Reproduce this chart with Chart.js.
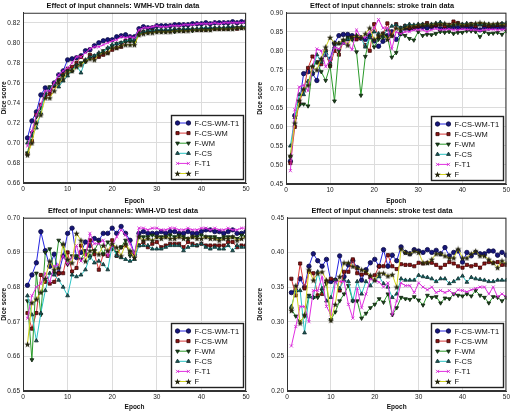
<!DOCTYPE html>
<html lang="en">
<head>
<meta charset="UTF-8">
<title>Effect of input channels</title>
<style>
  body { margin: 0; background: #fff; }
  .panel { position: absolute; }
</style>
</head>
<body>
<div class="panel" style="left:0;top:0"><canvas id="c1" width="256" height="205"></canvas></div>
<div class="panel" style="left:256px;top:0"><canvas id="c2" width="256" height="205"></canvas></div>
<div class="panel" style="left:0;top:205px"><canvas id="c3" width="256" height="206"></canvas></div>
<div class="panel" style="left:256px;top:205px"><canvas id="c4" width="256" height="206"></canvas></div>

<script src="https://cdn.jsdelivr.net/npm/chart.js"></script>
<script>
const epochs = [1,2,3,4,5,6,7,8,9,10,11,12,13,14,15,16,17,18,19,20,21,22,23,24,25,
  26,27,28,29,30,31,32,33,34,35,36,37,38,39,40,41,42,43,44,45,46,47,48,49,50];
const seriesNames = ['F-CS-WM-T1', 'F-CS-WM', 'F-WM', 'F-CS', 'F-T1', 'F'];

// WMH-VD train
const wmhTrainFCSWMT1 = [0.705,0.722,0.731,0.748,0.755,0.753,0.760,0.768,0.772,0.783,
  0.784,0.785,0.787,0.792,0.793,0.797,0.800,0.802,0.803,0.803,
  0.806,0.807,0.808,0.806,0.806,0.814,0.816,0.815,0.815,0.817,
  0.817,0.817,0.817,0.818,0.818,0.818,0.818,0.819,0.819,0.819,
  0.820,0.819,0.820,0.820,0.820,0.820,0.821,0.820,0.821,0.821];
const wmhTrainFCSWM = [0.689,0.702,0.728,0.738,0.746,0.749,0.757,0.763,0.768,0.774,
  0.776,0.780,0.786,0.782,0.788,0.785,0.786,0.788,0.790,0.793,
  0.795,0.796,0.802,0.802,0.802,0.810,0.811,0.811,0.812,0.812,
  0.812,0.812,0.812,0.812,0.813,0.812,0.813,0.813,0.813,0.813,
  0.813,0.814,0.814,0.814,0.814,0.814,0.815,0.814,0.815,0.815];
const wmhTrainFWM = [0.690,0.710,0.726,0.735,0.748,0.756,0.758,0.762,0.767,0.772,
  0.772,0.777,0.780,0.781,0.785,0.787,0.789,0.792,0.794,0.797,
  0.799,0.800,0.801,0.802,0.800,0.808,0.810,0.810,0.811,0.811,
  0.811,0.811,0.812,0.811,0.812,0.812,0.813,0.812,0.813,0.813,
  0.813,0.813,0.814,0.814,0.814,0.814,0.814,0.815,0.815,0.815];
const wmhTrainFCS = [0.700,0.707,0.715,0.730,0.750,0.755,0.758,0.756,0.762,0.767,
  0.772,0.778,0.770,0.783,0.786,0.787,0.790,0.791,0.795,0.798,
  0.799,0.800,0.802,0.803,0.803,0.809,0.811,0.812,0.812,0.813,
  0.813,0.813,0.813,0.814,0.813,0.814,0.814,0.814,0.814,0.815,
  0.815,0.815,0.815,0.815,0.815,0.816,0.816,0.815,0.816,0.816];
const wmhTrainFT1 = [0.697,0.712,0.728,0.738,0.752,0.752,0.760,0.768,0.772,0.775,
  0.780,0.786,0.786,0.790,0.794,0.796,0.796,0.798,0.800,0.802,
  0.803,0.806,0.805,0.806,0.805,0.813,0.815,0.815,0.816,0.817,
  0.816,0.816,0.817,0.817,0.817,0.818,0.818,0.818,0.819,0.819,
  0.819,0.819,0.820,0.819,0.820,0.820,0.820,0.820,0.820,0.821];
const wmhTrainF = [0.688,0.700,0.720,0.728,0.745,0.745,0.752,0.760,0.764,0.770,
  0.772,0.776,0.778,0.782,0.784,0.783,0.788,0.790,0.790,0.795,
  0.795,0.797,0.798,0.798,0.798,0.808,0.809,0.810,0.810,0.811,
  0.811,0.811,0.811,0.812,0.812,0.812,0.812,0.813,0.813,0.813,
  0.813,0.813,0.814,0.814,0.814,0.814,0.814,0.815,0.815,0.815];

// stroke train
const strokeTrainFCSWMT1 = [0.51,0.63,0.66,0.74,0.745,0.74,0.722,0.775,0.79,0.778,
  0.82,0.84,0.843,0.843,0.84,0.835,0.833,0.83,0.84,0.826,
  0.812,0.825,0.84,0.85,0.83,0.845,0.86,0.858,0.86,0.862,
  0.862,0.860,0.862,0.865,0.858,0.860,0.862,0.862,0.860,0.862,
  0.862,0.860,0.860,0.855,0.862,0.860,0.862,0.862,0.860,0.862];
const strokeTrainFCSWM = [0.505,0.60,0.665,0.695,0.755,0.785,0.77,0.765,0.80,0.76,
  0.80,0.79,0.825,0.83,0.835,0.83,0.835,0.815,0.80,0.87,
  0.835,0.845,0.872,0.84,0.87,0.86,0.865,0.86,0.862,0.865,
  0.868,0.873,0.866,0.868,0.870,0.865,0.868,0.877,0.873,0.868,
  0.868,0.870,0.866,0.870,0.868,0.866,0.867,0.868,0.870,0.868];
const strokeTrainFWM = [0.52,0.625,0.657,0.660,0.655,0.757,0.770,0.745,0.722,0.760,
  0.668,0.800,0.825,0.835,0.830,0.797,0.683,0.785,0.838,0.810,
  0.830,0.835,0.838,0.783,0.795,0.845,0.840,0.832,0.828,0.850,
  0.840,0.843,0.842,0.845,0.850,0.848,0.850,0.845,0.848,0.848,
  0.852,0.852,0.850,0.837,0.850,0.845,0.846,0.848,0.843,0.852];
const strokeTrainFCS = [0.55,0.625,0.685,0.685,0.72,0.745,0.79,0.77,0.80,0.77,
  0.81,0.82,0.82,0.83,0.83,0.84,0.835,0.81,0.835,0.85,
  0.845,0.84,0.855,0.865,0.868,0.86,0.866,0.87,0.868,0.87,
  0.870,0.868,0.870,0.872,0.875,0.870,0.866,0.868,0.870,0.870,
  0.872,0.870,0.870,0.868,0.870,0.870,0.868,0.870,0.872,0.873];
const strokeTrainFT1 = [0.485,0.645,0.705,0.71,0.695,0.755,0.805,0.80,0.758,0.775,
  0.81,0.805,0.82,0.82,0.803,0.855,0.835,0.835,0.85,0.86,
  0.882,0.86,0.86,0.805,0.85,0.845,0.85,0.85,0.855,0.855,
  0.855,0.850,0.855,0.858,0.855,0.856,0.857,0.855,0.855,0.857,
  0.856,0.855,0.855,0.853,0.855,0.856,0.856,0.855,0.856,0.857];
const strokeTrainF = [0.525,0.61,0.67,0.70,0.71,0.76,0.75,0.78,0.81,0.835,
  0.82,0.82,0.83,0.815,0.835,0.84,0.835,0.845,0.86,0.83,
  0.84,0.845,0.83,0.84,0.86,0.855,0.86,0.865,0.865,0.868,
  0.868,0.870,0.868,0.872,0.870,0.872,0.868,0.870,0.872,0.868,
  0.870,0.870,0.872,0.874,0.872,0.870,0.870,0.872,0.868,0.872];

// WMH-VD test
const wmhTestFCSWMT1 = [0.6805,0.6835,0.687,0.696,0.6905,0.686,0.6895,0.684,0.689,0.6955,
  0.697,0.6885,0.690,0.693,0.692,0.694,0.6935,0.6955,0.6955,0.697,
  0.6955,0.6975,0.6955,0.6935,0.6895,0.6955,0.696,0.6955,0.6955,0.6955,
  0.696,0.6955,0.696,0.696,0.6955,0.6955,0.696,0.6955,0.6955,0.696,
  0.6965,0.6965,0.696,0.696,0.6955,0.696,0.6965,0.6955,0.6955,0.696];
const wmhTestFCSWM = [0.6725,0.668,0.6725,0.6835,0.6815,0.681,0.6815,0.684,0.684,0.690,
  0.6845,0.6855,0.692,0.6895,0.6935,0.6895,0.685,0.6895,0.689,0.6935,
  0.689,0.6915,0.692,0.690,0.689,0.692,0.693,0.6915,0.6925,0.693,
  0.6915,0.692,0.6925,0.6925,0.6925,0.6915,0.693,0.6925,0.692,0.6925,
  0.692,0.692,0.692,0.692,0.692,0.693,0.693,0.6915,0.692,0.692];
const wmhTestFWM = [0.676,0.659,0.684,0.672,0.690,0.691,0.684,0.6935,0.692,0.6865,
  0.689,0.689,0.688,0.6905,0.6885,0.6905,0.693,0.6895,0.693,0.691,
  0.690,0.6915,0.6935,0.689,0.690,0.6945,0.6945,0.6945,0.695,0.6945,
  0.6945,0.6945,0.695,0.6945,0.695,0.6945,0.694,0.6945,0.6945,0.695,
  0.6945,0.6945,0.6945,0.694,0.6945,0.6945,0.6945,0.694,0.695,0.6945];
const wmhTestFCS = [0.6775,0.672,0.6645,0.6725,0.679,0.684,0.6835,0.682,0.680,0.6775,
  0.6835,0.683,0.6835,0.685,0.689,0.687,0.6875,0.6865,0.685,0.692,
  0.689,0.6885,0.688,0.6875,0.688,0.692,0.692,0.692,0.691,0.691,
  0.691,0.6915,0.692,0.692,0.692,0.6905,0.6915,0.692,0.692,0.6925,
  0.6915,0.691,0.6915,0.691,0.691,0.692,0.6905,0.692,0.6915,0.6915];
const wmhTestFT1 = [0.671,0.6775,0.680,0.681,0.684,0.6815,0.686,0.6865,0.689,0.6865,
  0.6885,0.692,0.6875,0.689,0.6955,0.6925,0.6925,0.6935,0.689,0.692,
  0.6945,0.6965,0.695,0.6925,0.6895,0.697,0.697,0.6965,0.697,0.697,
  0.6965,0.6965,0.697,0.697,0.6965,0.6965,0.697,0.6965,0.6965,0.697,
  0.697,0.6965,0.697,0.6965,0.6965,0.697,0.6965,0.6965,0.697,0.697];
const wmhTestF = [0.6635,0.6755,0.6765,0.6785,0.6825,0.6875,0.685,0.6855,0.6925,0.688,
  0.687,0.6955,0.6935,0.6875,0.6905,0.6905,0.6895,0.692,0.6905,0.6925,
  0.6915,0.689,0.6925,0.6905,0.6885,0.6945,0.6935,0.694,0.6935,0.6945,
  0.694,0.6945,0.694,0.694,0.6945,0.694,0.694,0.6945,0.694,0.694,
  0.6945,0.694,0.694,0.6935,0.694,0.694,0.6945,0.6935,0.694,0.6945];

// stroke test
const strokeTestFCSWMT1 = [0.342,0.345,0.362,0.350,0.380,0.398,0.388,0.380,0.390,0.358,
  0.360,0.395,0.365,0.382,0.388,0.378,0.360,0.375,0.385,0.390,
  0.380,0.404,0.380,0.396,0.388,0.408,0.400,0.398,0.404,0.402,
  0.400,0.404,0.400,0.403,0.398,0.407,0.395,0.400,0.402,0.386,
  0.400,0.395,0.400,0.398,0.398,0.402,0.402,0.396,0.400,0.396];
const strokeTestFCSWM = [0.362,0.338,0.384,0.348,0.372,0.370,0.338,0.340,0.358,0.362,
  0.360,0.345,0.372,0.372,0.390,0.370,0.368,0.370,0.364,0.367,
  0.380,0.380,0.396,0.380,0.376,0.383,0.382,0.382,0.380,0.385,
  0.384,0.385,0.385,0.382,0.378,0.382,0.386,0.384,0.380,0.378,
  0.382,0.380,0.382,0.378,0.384,0.386,0.385,0.386,0.382,0.382];
const strokeTestFWM = [0.318,0.308,0.300,0.308,0.338,0.335,0.335,0.345,0.355,0.303,
  0.314,0.330,0.340,0.352,0.330,0.330,0.305,0.312,0.320,0.325,
  0.333,0.328,0.340,0.310,0.320,0.335,0.333,0.332,0.336,0.331,
  0.324,0.338,0.335,0.336,0.327,0.334,0.333,0.340,0.338,0.337,
  0.340,0.337,0.345,0.338,0.335,0.327,0.336,0.335,0.330,0.335];
const strokeTestFCS = [0.322,0.345,0.345,0.284,0.336,0.335,0.372,0.348,0.330,0.335,
  0.360,0.348,0.360,0.358,0.330,0.358,0.340,0.358,0.352,0.360,
  0.365,0.355,0.350,0.335,0.340,0.362,0.360,0.360,0.360,0.367,
  0.365,0.364,0.362,0.358,0.362,0.362,0.355,0.358,0.362,0.366,
  0.357,0.364,0.362,0.361,0.360,0.358,0.358,0.360,0.360,0.360];
const strokeTestFT1 = [0.265,0.293,0.322,0.322,0.300,0.345,0.345,0.365,0.322,0.310,
  0.357,0.358,0.358,0.325,0.305,0.348,0.320,0.340,0.362,0.360,
  0.357,0.350,0.356,0.310,0.330,0.356,0.352,0.352,0.342,0.356,
  0.350,0.346,0.350,0.342,0.345,0.342,0.345,0.340,0.346,0.345,
  0.343,0.346,0.348,0.350,0.350,0.340,0.350,0.336,0.340,0.336];
const strokeTestF = [0.316,0.352,0.298,0.310,0.375,0.360,0.370,0.372,0.360,0.302,
  0.325,0.365,0.385,0.385,0.380,0.378,0.375,0.373,0.367,0.360,
  0.370,0.370,0.366,0.368,0.350,0.405,0.400,0.398,0.402,0.400,
  0.385,0.385,0.390,0.398,0.398,0.395,0.392,0.392,0.405,0.392,
  0.392,0.398,0.402,0.395,0.395,0.390,0.385,0.378,0.388,0.384];

// filled star marker for "F"
const starImg = document.createElement('canvas');
starImg.width = 7; starImg.height = 7;
(function () {
  const c = starImg.getContext('2d');
  c.beginPath();
  for (let k = 0; k < 10; k++) {
    const r = k % 2 === 0 ? 3.3 : 1.4;
    const a = -Math.PI / 2 + k * Math.PI / 5;
    const px = 3.5 + r * Math.cos(a), py = 3.8 + r * Math.sin(a);
    if (k === 0) c.moveTo(px, py); else c.lineTo(px, py);
  }
  c.closePath();
  c.fillStyle = '#25250f';
  c.fill();
})();

const styles = [
  { line: '#2424e0', fill: '#16167a', edge: '#0a0a40', point: 'circle', rot: 0 },
  { line: '#d83a3a', fill: '#8a1414', edge: '#3a0505', point: 'rect', rot: 0 },
  { line: '#2a9a2a', fill: '#1d471d', edge: '#0c200c', point: 'triangle', rot: 180 },
  { line: '#2ac4c4', fill: '#1d5a5a', edge: '#0c2a2a', point: 'triangle', rot: 0 },
  { line: '#e02ee0', fill: '#e02ee0', edge: '#d020d0', point: 'crossRot', rot: 0 },
  { line: '#d2d21e', fill: '#25250f', edge: '#25250f', point: starImg, rot: 0 }
];

const frameAndLegend = {
  id: 'frameAndLegend',
  afterDatasetsDraw(chart) {
    const { ctx, chartArea } = chart;
    ctx.save();
    ctx.strokeStyle = '#333';
    ctx.lineWidth = 1;
    ctx.strokeRect(chartArea.left + 0.5, chartArea.top + 0.5,
      chartArea.right - chartArea.left - 1, chartArea.bottom - chartArea.top - 1);

    const boxW = 72, boxH = 64, rowH = 10.1;
    const x0 = Math.round(chartArea.right - boxW - 3) + 0.5;
    const y0 = Math.round(chartArea.bottom - boxH - 4) + 0.5;
    ctx.fillStyle = '#fff';
    ctx.fillRect(x0, y0, boxW, boxH);
    ctx.strokeStyle = '#222';
    ctx.lineWidth = 1.4;
    ctx.strokeRect(x0, y0, boxW, boxH);

    ctx.font = '7.5px "Liberation Sans", Arial, sans-serif';
    ctx.textBaseline = 'middle';
    chart.data.datasets.forEach((ds, i) => {
      const y = y0 + 7.5 + i * rowH;
      const xa = x0 + 6, xb = x0 + 17;
      ctx.strokeStyle = ds.borderColor;
      ctx.lineWidth = 1;
      ctx.beginPath(); ctx.moveTo(xa, y); ctx.lineTo(xb, y); ctx.stroke();
      const opts = { pointStyle: ds.pointStyle, rotation: ds.pointRotation, radius: 2.2, borderWidth: 0.8 };
      ctx.lineWidth = 0.8;
      ctx.fillStyle = ds.pointBackgroundColor;
      ctx.strokeStyle = ds.pointBorderColor;
      Chart.helpers.drawPoint(ctx, opts, xa, y);
      ctx.fillStyle = ds.pointBackgroundColor;
      ctx.strokeStyle = ds.pointBorderColor;
      Chart.helpers.drawPoint(ctx, opts, xb, y);
      ctx.fillStyle = '#111';
      ctx.fillText(ds.label, x0 + 23, y + 0.5);
    });
    ctx.restore();
  }
};

function makeChart(id, title, seriesList, yMin, yMax, yStep, yLeft, rightPad, xHeight) {
  const datasets = seriesList.map((vals, i) => ({
    label: seriesNames[i],
    data: epochs.map((e, k) => ({ x: e, y: vals[k] })),
    borderColor: styles[i].line,
    borderWidth: 1,
    pointStyle: styles[i].point,
    pointRotation: styles[i].rot,
    pointRadius: 2.2,
    pointBorderWidth: 0.8,
    pointBackgroundColor: styles[i].fill,
    pointBorderColor: styles[i].edge,
    tension: 0,
    order: 5 - i
  }));
  const tickFont = { family: '"Liberation Sans", Arial, sans-serif', size: 6.5 };
  const axisFont = { family: '"Liberation Sans", Arial, sans-serif', size: 6.5, weight: 'bold' };
  return new Chart(document.getElementById(id), {
    type: 'line',
    data: { datasets: datasets },
    options: {
      responsive: false,
      animation: false,
      layout: { padding: { left: 0, right: rightPad, bottom: 0, top: 0 } },
      plugins: {
        legend: { display: false },
        tooltip: { enabled: false },
        title: {
          display: true,
          text: title,
          color: '#111',
          font: { family: '"Liberation Sans", Arial, sans-serif', size: 7.3, weight: 'bold' },
          padding: { top: 2, bottom: 2 }
        }
      },
      scales: {
        x: {
          type: 'linear',
          min: 0, max: 50,
          ticks: { stepSize: 10, color: '#222', font: tickFont, padding: 2, maxRotation: 0 },
          grid: { color: '#dcdcdc', drawTicks: false },
          border: { color: '#333' },
          title: { display: true, text: 'Epoch', color: '#111', font: axisFont, padding: { top: 1, bottom: 0 } },
          afterFit: s => { s.height = xHeight; }
        },
        y: {
          min: yMin, max: yMax,
          ticks: {
            stepSize: yStep, color: '#222', font: tickFont, padding: 3,
            callback: v => v.toFixed(2)
          },
          afterBuildTicks: s => {
            s.ticks = s.ticks.filter(t => Math.abs(Math.round((t.value - yMin) / yStep) * yStep + yMin - t.value) < 1e-6);
          },
          grid: { color: '#dcdcdc', drawTicks: false },
          border: { color: '#333' },
          title: { display: true, text: 'Dice score', color: '#111', font: axisFont, padding: { top: 0, bottom: 1 } },
          afterFit: s => { s.width = yLeft; }
        }
      }
    },
    plugins: [frameAndLegend]
  });
}

makeChart('c1', 'Effect of input channels: WMH-VD train data',
  [wmhTrainFCSWMT1, wmhTrainFCSWM, wmhTrainFWM, wmhTrainFCS, wmhTrainFT1, wmhTrainF],
  0.66, 0.83, 0.02, 23, 10, 22);
makeChart('c2', 'Effect of input channels: stroke train data',
  [strokeTrainFCSWMT1, strokeTrainFCSWM, strokeTrainFWM, strokeTrainFCS, strokeTrainFT1, strokeTrainF],
  0.45, 0.90, 0.05, 30, 4, 21);
makeChart('c3', 'Effect of input channels: WMH-VD test data',
  [wmhTestFCSWMT1, wmhTestFCSWM, wmhTestFWM, wmhTestFCS, wmhTestFT1, wmhTestF],
  0.65, 0.70, 0.01, 23, 10, 20);
makeChart('c4', 'Effect of input channels: stroke test data',
  [strokeTestFCSWMT1, strokeTestFCSWM, strokeTestFWM, strokeTestFCS, strokeTestFT1, strokeTestF],
  0.20, 0.45, 0.05, 31, 4, 20);
</script>
</body>
</html>
